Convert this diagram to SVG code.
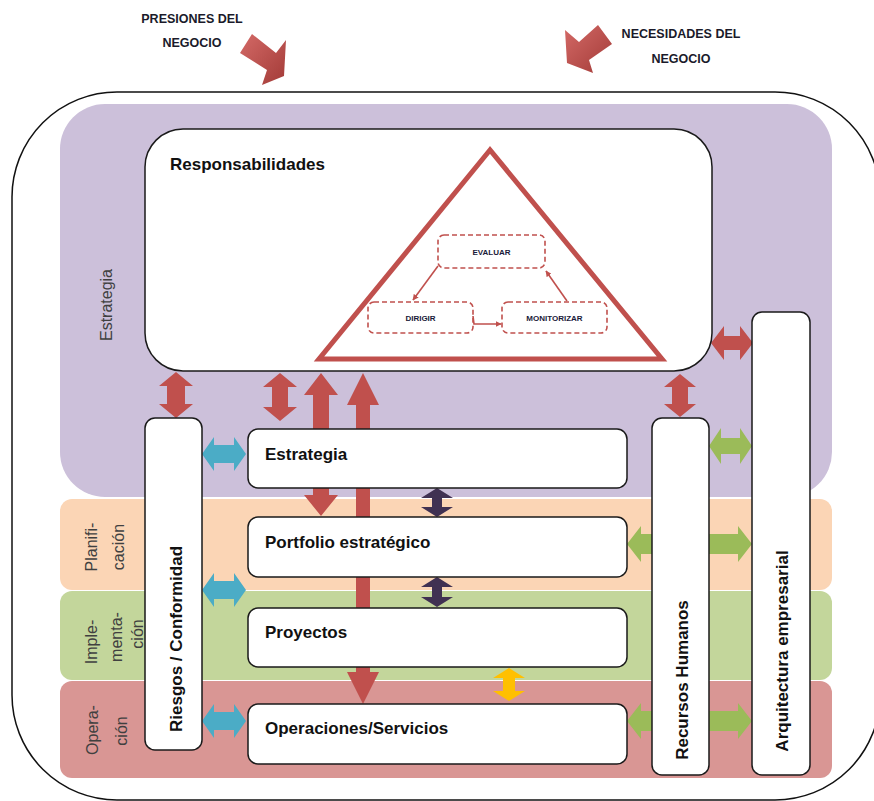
<svg xmlns="http://www.w3.org/2000/svg" width="874" height="801" viewBox="0 0 874 801">
<defs>
<style>
.box{fill:#fff;stroke:#1a1a1a;stroke-width:1.5}
.lbl{font-family:"Liberation Sans",Arial,sans-serif;font-weight:bold;font-size:17px;fill:#111}
.band{font-family:"Liberation Sans",Arial,sans-serif;font-size:16px;fill:#404040}
.top{font-family:"Liberation Sans",Arial,sans-serif;font-weight:bold;font-size:12.5px;fill:#1a1a2a}
.dash{fill:#fff;stroke:#C0504D;stroke-width:1.6;stroke-dasharray:5 3}
.small{font-family:"Liberation Sans",Arial,sans-serif;font-weight:bold;font-size:8px;fill:#1a1a3a}
.red{fill:#C0504D}
.blue{fill:#4BACC6}
.green{fill:#9BBB59}
.dark{fill:#403152}
.yellow{fill:#FFC000}
.thin{stroke:#C0504D;stroke-width:1.6;fill:none}
</style>
<linearGradient id="bigArrow" x1="0" y1="0" x2="1" y2="1">
<stop offset="0" stop-color="#D46A67"/>
<stop offset="1" stop-color="#A23A37"/>
</linearGradient>
<marker id="ah" viewBox="0 0 10 10" refX="9" refY="5" markerWidth="6" markerHeight="6" orient="auto" markerUnits="userSpaceOnUse">
<path d="M0,0 L10,5 L0,10 z" fill="#C0504D"/>
</marker>
</defs>
<rect x="0" y="0" width="874" height="801" fill="#fff"/>

<g id="outer">
<rect x="12" y="92" width="868" height="708" rx="105" fill="none" stroke="#111" stroke-width="1.5"/>
</g>

<g id="bands">
<rect x="60" y="104" width="772" height="393" rx="45" fill="#CCC0DA"/>
<rect x="60" y="499" width="772" height="91" rx="12" fill="#FBD5B5"/>
<rect x="60" y="591" width="772" height="89" rx="12" fill="#C3D69B"/>
<rect x="60" y="681" width="772" height="97" rx="12" fill="#D99694"/>
<text class="band" font-size="17" transform="translate(112,305) rotate(-90)" text-anchor="middle">Estrategia</text>
<text class="band" transform="translate(97,547) rotate(-90)" text-anchor="middle">Planifi-</text>
<text class="band" transform="translate(124,547) rotate(-90)" text-anchor="middle">cación</text>
<text class="band" transform="translate(97,642) rotate(-90)" text-anchor="middle">Imple-</text>
<text class="band" transform="translate(122,637) rotate(-90)" text-anchor="middle">menta-</text>
<text class="band" transform="translate(143,634) rotate(-90)" text-anchor="middle">ción</text>
<text class="band" transform="translate(98,730) rotate(-90)" text-anchor="middle">Opera-</text>
<text class="band" transform="translate(127,731) rotate(-90)" text-anchor="middle">ción</text>
</g>

<g id="business-inputs">
<text class="top" x="192" y="23" text-anchor="middle">PRESIONES DEL</text>
<text class="top" x="192" y="47" text-anchor="middle">NEGOCIO</text>
<polygon points="252,34 276,53 286,40 284,76 262,85 267,70 240,53" fill="url(#bigArrow)"/>
<text class="top" x="681" y="38" text-anchor="middle">NECESIDADES DEL</text>
<text class="top" x="681" y="63" text-anchor="middle">NEGOCIO</text>
<polygon points="598,25 612,44 589,60 593,73 567,63 565,30 579,42" fill="url(#bigArrow)"/>
</g>

<g id="connectors">
<!-- red vertical double arrows -->
<polygon class="red" points="176,372 193,386 185,386 185,404 193,404 176,418 159,404 167,404 167,386 159,386"/>
<polygon class="red" points="280,373 297,387 288,387 288,407 297,407 280,421 263,407 272,407 272,387 263,387"/>
<polygon class="red" points="321,373 338,395 329,395 329,495 338,495 321,516 304,495 313,495 313,395 304,395"/>
<polygon class="red" points="363,373 379,405 370,405 370,672 379,672 363,704 347,672 356,672 356,405 347,405"/>
<polygon class="red" points="680,374 696,387 688,387 688,404 696,404 680,417 664,404 672,404 672,387 664,387"/>
<!-- red horizontal -->
<polygon class="red" points="711,343 724,326 724,336 740,336 740,326 753,343 740,360 740,350 724,350 724,360"/>
<!-- blue -->
<polygon class="blue" points="202,454 214,437 214,445 234,445 234,437 246,454 234,471 234,463 214,463 214,471"/>
<polygon class="blue" points="202,590 214,573 214,581 234,581 234,573 246,590 234,607 234,599 214,599 214,607"/>
<polygon class="blue" points="202,721 214,704 214,712 234,712 234,704 246,721 234,738 234,730 214,730 214,738"/>
<!-- dark purple -->
<polygon class="dark" points="437,488 453,498 442,498 442,507 453,507 437,517 421,507 432,507 432,498 421,498"/>
<polygon class="dark" points="437,577 453,587 442,587 442,597 453,597 437,607 421,597 432,597 432,587 421,587"/>
<!-- yellow -->
<polygon class="yellow" points="509,668 525,678 515,678 515,691 525,691 509,701 493,691 503,691 503,678 493,678"/>
<!-- green -->
<polygon class="green" points="709,446 721,428 721,438 740,438 740,428 752,446 740,464 740,454 721,454 721,464"/>
<polygon class="green" points="627,544 641,526 641,534 738,534 738,526 752,544 738,562 738,554 641,554 641,562"/>
<polygon class="green" points="627,721 641,703 641,711 738,711 738,703 752,721 738,739 738,731 641,731 641,739"/>
</g>

<g id="responsabilidades">
<rect class="box" x="145" y="129" width="567" height="242" rx="38"/>
<text class="lbl" x="170" y="170">Responsabilidades</text>
<polygon points="490,150 319,359 662,359" fill="none" stroke="#C0504D" stroke-width="5" stroke-linejoin="miter"/>
</g>
<g id="evaluar">
<rect class="dash" x="438" y="235" width="107" height="33" rx="6"/>
<text class="small" x="491.5" y="254.5" text-anchor="middle">EVALUAR</text>
</g>
<g id="dirigir">
<rect class="dash" x="368" y="302" width="105" height="31" rx="6"/>
<text class="small" x="420.5" y="320.5" text-anchor="middle">DIRIGIR</text>
</g>
<g id="monitorizar">
<rect class="dash" x="502" y="302" width="105" height="31" rx="6"/>
<text class="small" x="554.5" y="320.5" text-anchor="middle">MONITORIZAR</text>
</g>
<g id="governance-connectors">
<line class="thin" x1="438" y1="266" x2="413" y2="300" marker-end="url(#ah)"/>
<polyline class="thin" points="473,316 474,324 501,324" marker-end="url(#ah)"/>
<line class="thin" x1="567" y1="301" x2="546" y2="271" marker-end="url(#ah)"/>
</g>

<g id="riesgos">
<rect class="box" x="145" y="418" width="57" height="332" rx="10"/>
<text class="lbl" transform="translate(182,639) rotate(-90)" text-anchor="middle">Riesgos / Conformidad</text>
</g>
<g id="estrategia">
<rect class="box" x="248" y="429" width="379" height="59" rx="10"/>
<text class="lbl" x="265" y="460">Estrategia</text>
</g>
<g id="portfolio">
<rect class="box" x="248" y="517" width="379" height="60" rx="10"/>
<text class="lbl" x="265" y="548">Portfolio estratégico</text>
</g>
<g id="proyectos">
<rect class="box" x="248" y="608" width="379" height="59" rx="10"/>
<text class="lbl" x="265" y="638">Proyectos</text>
</g>
<g id="operaciones">
<rect class="box" x="248" y="704" width="379" height="60" rx="10"/>
<text class="lbl" x="265" y="734">Operaciones/Servicios</text>
</g>
<g id="recursos">
<rect class="box" x="652" y="418" width="57" height="357" rx="10"/>
<text class="lbl" transform="translate(688,680) rotate(-90)" text-anchor="middle">Recursos Humanos</text>
</g>
<g id="arquitectura">
<rect class="box" x="752" y="312" width="58" height="463" rx="10"/>
<text class="lbl" font-size="18" transform="translate(788,651) rotate(-90)" text-anchor="middle">Arquitectura empresarial</text>
</g>
</svg>
